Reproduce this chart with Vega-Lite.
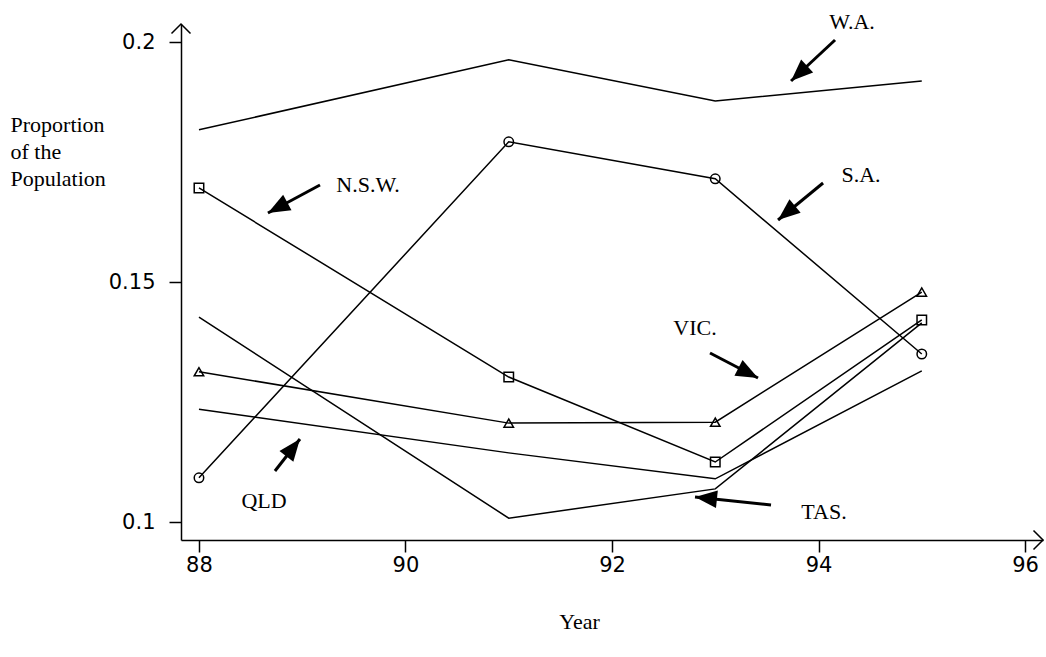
{
  "$schema": "https://vega.github.io/schema/vega-lite/v6.json",
  "width": 862,
  "height": 516,
  "autosize": {"type": "none"},
  "padding": {"left": 181, "top": 24, "right": 3, "bottom": 117},
  "background": "white",
  "config": {"view": {"stroke": null}},
  "datasets": {
    "series": [
      {"state": "W.A.", "year": 88, "value": 0.1817},
      {"state": "W.A.", "year": 91, "value": 0.1963},
      {"state": "W.A.", "year": 93, "value": 0.1877},
      {"state": "W.A.", "year": 95, "value": 0.1919},
      {"state": "S.A.", "year": 88, "value": 0.1092},
      {"state": "S.A.", "year": 91, "value": 0.1792},
      {"state": "S.A.", "year": 93, "value": 0.1715},
      {"state": "S.A.", "year": 95, "value": 0.1350},
      {"state": "N.S.W.", "year": 88, "value": 0.1696},
      {"state": "N.S.W.", "year": 91, "value": 0.1302},
      {"state": "N.S.W.", "year": 93, "value": 0.1125},
      {"state": "N.S.W.", "year": 95, "value": 0.1421},
      {"state": "VIC.", "year": 88, "value": 0.1313},
      {"state": "VIC.", "year": 91, "value": 0.1206},
      {"state": "VIC.", "year": 93, "value": 0.1208},
      {"state": "VIC.", "year": 95, "value": 0.1479},
      {"state": "QLD", "year": 88, "value": 0.1235},
      {"state": "QLD", "year": 91, "value": 0.1144},
      {"state": "QLD", "year": 93, "value": 0.1090},
      {"state": "QLD", "year": 95, "value": 0.1315},
      {"state": "TAS.", "year": 88, "value": 0.1427},
      {"state": "TAS.", "year": 91, "value": 0.1008},
      {"state": "TAS.", "year": 93, "value": 0.1069},
      {"state": "TAS.", "year": 95, "value": 0.1415}
    ],
    "labels": [
      {"label": "W.A.", "x": 94.324, "y": 0.20417},
      {"label": "N.S.W.", "x": 89.637, "y": 0.17021},
      {"label": "S.A.", "x": 94.412, "y": 0.17229},
      {"label": "VIC.", "x": 92.804, "y": 0.14042},
      {"label": "QLD", "x": 88.630, "y": 0.10438},
      {"label": "TAS.", "x": 94.053, "y": 0.10208}
    ],
    "arrows": [
      {"label": "W.A.", "x1": 94.160, "y1": 0.20042, "x2": 93.734, "y2": 0.19188},
      {"label": "N.S.W.", "x1": 89.172, "y1": 0.17021, "x2": 88.668, "y2": 0.16438},
      {"label": "S.A.", "x1": 94.044, "y1": 0.17063, "x2": 93.608, "y2": 0.16292},
      {"label": "VIC.", "x1": 92.949, "y1": 0.13521, "x2": 93.414, "y2": 0.13000},
      {"label": "QLD", "x1": 88.736, "y1": 0.11063, "x2": 88.978, "y2": 0.11729},
      {"label": "TAS.", "x1": 93.540, "y1": 0.10354, "x2": 92.804, "y2": 0.10521}
    ],
    "axisTop": [{"x": 87.826, "y": 0.20375}],
    "axisRight": [{"x": 96.174, "y": 0.09625}]
  },
  "layer": [
    {
      "data": {"name": "series"},
      "mark": {"type": "line", "color": "black", "strokeWidth": 1.5},
      "encoding": {
        "x": {
          "field": "year", "type": "quantitative",
          "scale": {"domain": [87.826, 96.174], "nice": false, "zero": false},
          "axis": {
            "values": [88, 90, 92, 94, 96], "format": "d", "grid": false,
            "domainColor": "black", "domainWidth": 1.5,
            "tickColor": "black", "tickWidth": 1.5, "tickSize": 12,
            "labelFont": "DejaVu Sans", "labelFontSize": 21, "labelColor": "black", "labelPadding": 2,
            "title": "Year", "titleFont": "Liberation Serif", "titleFontSize": 22, "titleFontWeight": "normal",
            "titleColor": "black", "titleX": 398, "titleY": 88, "titleAlign": "center", "titleBaseline": "alphabetic"
          }
        },
        "y": {
          "field": "value", "type": "quantitative",
          "scale": {"domain": [0.09625, 0.20375], "nice": false, "zero": false},
          "axis": {
            "values": [0.1, 0.15, 0.2], "format": "~g", "grid": false,
            "domainColor": "black", "domainWidth": 1.5,
            "tickColor": "black", "tickWidth": 1.5, "tickSize": 12,
            "labelFont": "DejaVu Sans", "labelFontSize": 21, "labelColor": "black", "labelPadding": 14,
            "title": ["Proportion", "of the", "Population"],
            "titleFont": "Liberation Serif", "titleFontSize": 22, "titleFontWeight": "normal", "titleColor": "black",
            "titleAngle": 0, "titleAlign": "left", "titleBaseline": "alphabetic", "titleLineHeight": 27,
            "titleX": -171, "titleY": 107
          }
        },
        "detail": {"field": "state", "type": "nominal"}
      }
    },
    {
      "data": {"name": "series"},
      "transform": [{"filter": {"field": "state", "oneOf": ["N.S.W.", "S.A.", "VIC."]}}],
      "mark": {"type": "point", "filled": false, "stroke": "black", "strokeWidth": 1.5, "size": 90, "opacity": 1},
      "encoding": {
        "x": {"field": "year", "type": "quantitative", "scale": {"domain": [87.826, 96.174], "nice": false, "zero": false}},
        "y": {"field": "value", "type": "quantitative", "scale": {"domain": [0.09625, 0.20375], "nice": false, "zero": false}},
        "shape": {
          "field": "state", "type": "nominal",
          "scale": {"domain": ["N.S.W.", "S.A.", "VIC."], "range": ["square", "circle", "triangle-up"]},
          "legend": null
        }
      }
    },
    {
      "data": {"name": "arrows"},
      "mark": {"type": "rule", "color": "black", "strokeWidth": 3},
      "encoding": {
        "x": {"field": "x1", "type": "quantitative", "scale": {"domain": [87.826, 96.174], "nice": false, "zero": false}},
        "y": {"field": "y1", "type": "quantitative", "scale": {"domain": [0.09625, 0.20375], "nice": false, "zero": false}},
        "x2": {"field": "x2"},
        "y2": {"field": "y2"}
      }
    },
    {
      "data": {"name": "arrows"},
      "mark": {"type": "point", "shape": "M 0 0 L 0.8 2 L -0.8 2 Z", "filled": true, "color": "black", "size": 484, "opacity": 1},
      "encoding": {
        "x": {"field": "x2", "type": "quantitative", "scale": {"domain": [87.826, 96.174], "nice": false, "zero": false}},
        "y": {"field": "y2", "type": "quantitative", "scale": {"domain": [0.09625, 0.20375], "nice": false, "zero": false}},
        "angle": {
          "field": "label", "type": "nominal",
          "scale": {"type": "ordinal", "domain": ["W.A.", "N.S.W.", "S.A.", "VIC.", "QLD", "TAS."], "range": [227, 241.7, 230.6, 117.5, 38, 276]},
          "legend": null
        }
      }
    },
    {
      "data": {"name": "labels"},
      "mark": {"type": "text", "font": "Liberation Serif", "fontSize": 22, "color": "black", "align": "center", "baseline": "middle"},
      "encoding": {
        "x": {"field": "x", "type": "quantitative", "scale": {"domain": [87.826, 96.174], "nice": false, "zero": false}},
        "y": {"field": "y", "type": "quantitative", "scale": {"domain": [0.09625, 0.20375], "nice": false, "zero": false}},
        "text": {"field": "label", "type": "nominal"}
      }
    },
    {
      "data": {"name": "axisTop"},
      "mark": {"type": "point", "shape": "M -1 1 L 0 0 L 1 1", "filled": false, "stroke": "black", "strokeWidth": 1.5, "size": 361, "opacity": 1},
      "encoding": {
        "x": {"field": "x", "type": "quantitative", "scale": {"domain": [87.826, 96.174], "nice": false, "zero": false}},
        "y": {"field": "y", "type": "quantitative", "scale": {"domain": [0.09625, 0.20375], "nice": false, "zero": false}}
      }
    },
    {
      "data": {"name": "axisRight"},
      "mark": {"type": "point", "shape": "M -1 -1 L 0 0 L -1 1", "filled": false, "stroke": "black", "strokeWidth": 1.5, "size": 361, "opacity": 1},
      "encoding": {
        "x": {"field": "x", "type": "quantitative", "scale": {"domain": [87.826, 96.174], "nice": false, "zero": false}},
        "y": {"field": "y", "type": "quantitative", "scale": {"domain": [0.09625, 0.20375], "nice": false, "zero": false}}
      }
    }
  ]
}
